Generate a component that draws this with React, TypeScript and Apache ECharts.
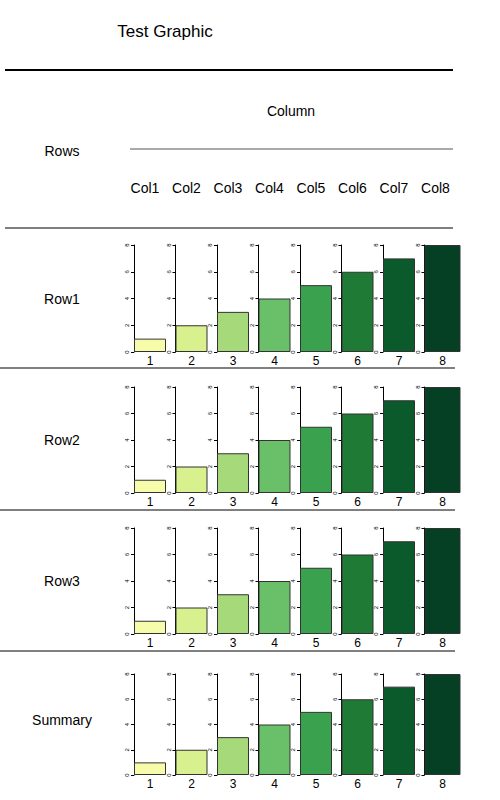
import React, { useEffect, useRef } from 'react';
import * as echarts from 'echarts';

const columns = ['Col1', 'Col2', 'Col3', 'Col4', 'Col5', 'Col6', 'Col7', 'Col8'];
const rows = ['Row1', 'Row2', 'Row3', 'Summary'];
const barLabels = ['1', '2', '3', '4', '5', '6', '7', '8'];
const barValues = [1, 2, 3, 4, 5, 6, 7, 8];
const yTicks = [0, 2, 4, 6, 8];
const colors = ['#f7fcaa', '#d9f08f', '#a6d97a', '#6abf69', '#3aa14f', '#1f7a36', '#0b5a2b', '#053f24'];

const FONT = 'Liberation Sans, Arial, sans-serif';
const colLeft = (i: number) => 134 + i * 41.5;
const rowTop = [245, 387, 528, 674];
const rowHeight = [107, 106, 106, 101];
const rowLabelY = [299, 440, 581, 720];

const App: React.FC = () => {
  const ref = useRef<HTMLDivElement>(null);

  useEffect(() => {
    if (!ref.current) return;
    const chart = echarts.init(ref.current, undefined, { renderer: 'svg' });

    const grid: any[] = [];
    const xAxis: any[] = [];
    const yAxis: any[] = [];
    const series: any[] = [];
    rows.forEach((_, r) => {
      columns.forEach((_, c) => {
        const idx = r * columns.length + c;
        grid.push({ left: colLeft(c), top: rowTop[r], width: c === 7 ? 36 : 32, height: rowHeight[r] });
        xAxis.push({
          gridIndex: idx,
          type: 'category',
          data: [barLabels[c]],
          axisLine: { show: false },
          axisTick: { show: false },
          axisLabel: { color: '#000', fontSize: 12, fontFamily: FONT, margin: 3 },
        });
        yAxis.push({
          gridIndex: idx,
          type: 'value',
          min: 0,
          max: 8,
          interval: 2,
          splitLine: { show: false },
          axisLine: { show: true, lineStyle: { color: '#000', width: 1 } },
          axisTick: { show: true, length: 3, lineStyle: { color: '#000' } },
          axisLabel: { fontSize: 6, color: '#000', rotate: 90, margin: 4, fontFamily: FONT },
        });
        series.push({
          type: 'bar',
          xAxisIndex: idx,
          yAxisIndex: idx,
          barWidth: '100%',
          data: [barValues[c]],
          itemStyle: { color: colors[c], borderColor: '#333', borderWidth: 1 },
        });
      });
    });

    const text = (t: string, x: number, y: number, size: number, align = 'center') => ({
      type: 'text',
      x,
      y,
      style: { text: t, fontSize: size, fontFamily: FONT, fill: '#000', align, verticalAlign: 'middle' },
    });
    const line = (x1: number, y1: number, x2: number, y2: number, w = 1, color = '#000') => ({
      type: 'line',
      shape: { x1, y1, x2, y2 },
      style: { stroke: color, lineWidth: w },
    });

    const graphic: any[] = [
      text('Test Graphic', 165, 31, 17),
      line(5, 70, 453, 70, 2),
      text('Column', 291, 111, 14),
      line(130, 149, 453, 149, 1, '#555'),
      text('Rows', 62, 151, 14),
      ...columns.map((c, i) => text(c, colLeft(i) + 11, 188, 14)),
      line(5, 228, 453, 228),
      ...rows.map((r, i) => text(r, 62, rowLabelY[i], 14)),
      line(0, 368, 455, 368),
      line(0, 510, 455, 510),
      line(0, 651, 455, 651),
    ];

    chart.setOption({ animation: false, grid, xAxis, yAxis, series, graphic });
    return () => chart.dispose();
  }, []);

  return <div ref={ref} style={{ position: 'absolute', left: 0, top: 0, width: 500, height: 800, background: '#fff' }} />;
};

export default App;
